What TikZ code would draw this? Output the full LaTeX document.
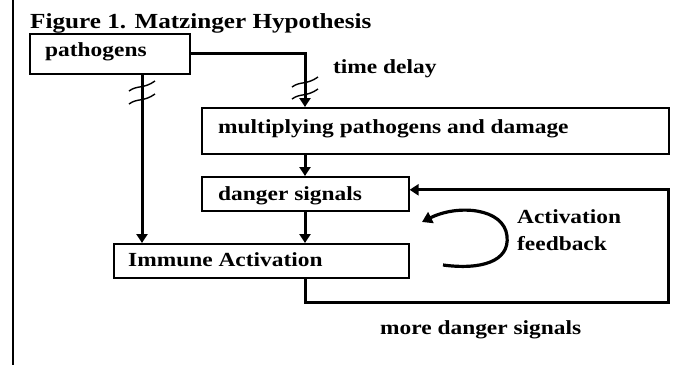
\documentclass[tikz,border=0pt]{standalone}
\usepackage{fontspec}
\setmainfont{Liberation Serif}[FakeStretch=1.17]
\usetikzlibrary{arrows.meta,calc}

\tikzset{
  x=1pt, y=-1pt,
  box/.style={draw, line width=1.6pt, rectangle, inner sep=0pt, anchor=north west},
  lbl/.style={inner sep=0pt, anchor=base west, font=\bfseries\fontsize{20}{22}\selectfont},
  titlelbl/.style={lbl, font=\bfseries\fontsize{21.5}{24}\selectfont},
  conn/.style={line width=3pt, -{Triangle[length=9pt,width=11pt]}},
  hashmark/.pic={\draw[line width=1.4pt] (-13,5) .. controls (-5,-1) and (2,3) .. (13,-5);}
}

\begin{document}
\begin{tikzpicture}
  \useasboundingbox (0,0) rectangle (678,365);

  % page margin rule
  \draw[line width=2pt] (13,0) -- (13,365);

  % title
  \node[titlelbl] (title) at (30,28) {Figure 1. Matzinger Hypothesis};

  % boxes
  \node[box, minimum width=160pt, minimum height=40pt] (pathogens) at (29,33) {};
  \node[lbl] (pathogensT) at (45,56) {pathogens};

  \node[box, minimum width=467pt, minimum height=46pt] (mult) at (201,107) {};
  \node[lbl] (multT) at (218,133) {multiplying pathogens and damage};

  \node[box, minimum width=207pt, minimum height=34pt] (danger) at (201,176) {};
  \node[lbl] (dangerT) at (218,200) {danger signals};

  \node[box, minimum width=295pt, minimum height=34pt] (immune) at (113,243) {};
  \node[lbl] (immuneT) at (128,266) {Immune Activation};

  % labels
  \node[lbl] (delay) at (333,73) {time delay};
  \node[lbl] (act1) at (517,223) {Activation};
  \node[lbl] (act2) at (517,250) {feedback};
  \node[lbl] (more) at (380,334) {more danger signals};

  % guide coordinates
  \coordinate (lx) at (142,0);
  \coordinate (cx) at (305,0);
  \coordinate (loopcorner) at (668,302);

  % connectors
  \draw[conn] (pathogens.east) -| (mult.north -| cx);
  \draw[conn] (pathogens.south -| lx) -- (immune.north -| lx);
  \draw[conn] (mult.south -| cx) -- (danger.north -| cx);
  \draw[conn] (danger.south -| cx) -- (immune.north -| cx);
  \draw[conn] (immune.south -| cx) |- (loopcorner) |- ([yshift=4pt]danger.east);

  % delay marks
  \pic at (142,86) {hashmark};
  \pic at (142,99) {hashmark};
  \pic at (305,82) {hashmark};
  \pic at (305,94) {hashmark};

  % self-activation loop
  \coordinate (loopstart) at (443,265);
  \coordinate (loopend) at (422,222);
  \draw[line width=3.2pt, -{Triangle[length=10pt,width=12pt]}]
    (loopstart) .. controls (480,270) and (510,262) .. (507,236)
    .. controls (504,208) and (458,204) .. (loopend);
\end{tikzpicture}
\end{document}
